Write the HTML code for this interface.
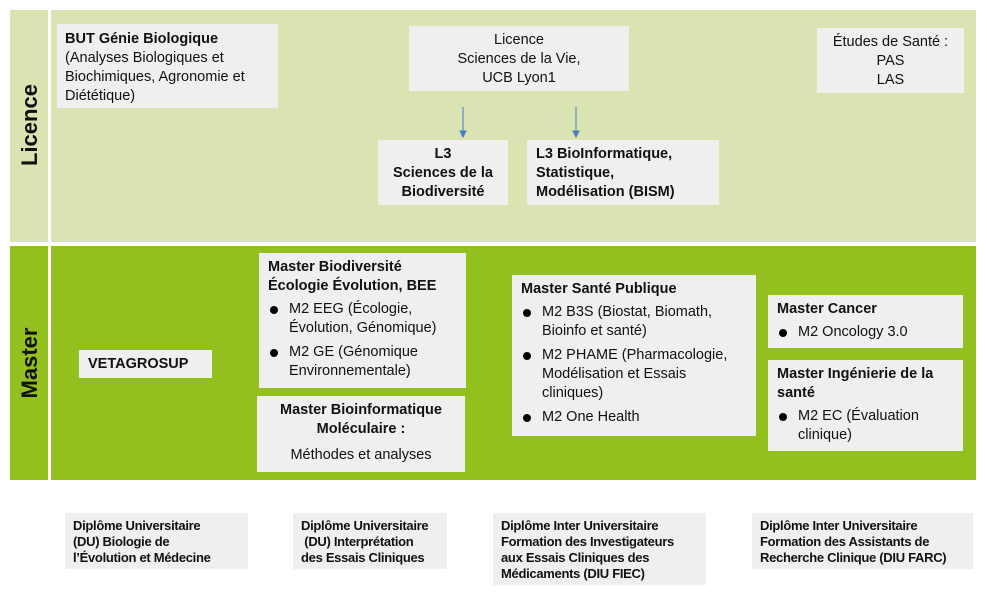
<!DOCTYPE html>
<html><head><meta charset="utf-8"><style>
body{margin:0;width:987px;height:598px;background:#fff;position:relative;font-family:"Liberation Sans",sans-serif;color:#111;overflow:hidden}
.a{position:absolute}
.bx{position:absolute;background:#efefee;box-sizing:border-box;font-size:14.5px;line-height:19px}
.b{font-weight:bold}
.c{text-align:center}
ul{margin:4px 0 0 0;padding:0;list-style:none}
li{position:relative;padding-left:21px;margin-bottom:5px}
li:before{content:"";position:absolute;left:2px;top:6px;width:8px;height:8px;border-radius:50%;background:#000}
.vert{position:absolute;transform:rotate(-90deg);font-weight:bold;font-size:22px;white-space:nowrap}
.du{position:absolute;background:#efefee;font-size:13px;font-weight:bold;line-height:16px;padding:5px 8px;box-sizing:border-box;letter-spacing:-0.3px;white-space:nowrap}
</style></head><body>
<div class="a" style="left:10px;top:10px;width:38px;height:232px;background:#d9e4b2"></div>
<div class="a" style="left:51px;top:10px;width:925px;height:232px;background:#d9e4b2"></div>
<div class="a" style="left:10px;top:246px;width:38px;height:234px;background:#93c01f"></div>
<div class="a" style="left:51px;top:246px;width:925px;height:234px;background:#93c01f"></div>
<div class="vert" style="left:-10px;top:113px;width:80px;text-align:center">Licence</div>
<div class="vert" style="left:-10px;top:350px;width:80px;text-align:center">Master</div>

<div class="bx" style="left:57px;top:24px;width:221px;height:84px;padding:6px 8px"><span class="b">BUT Génie Biologique</span><br>(Analyses Biologiques et Biochimiques, Agronomie et Diététique)</div>
<div class="bx c" style="left:409px;top:26px;width:220px;height:65px;padding:5px 0">Licence<br>Sciences de la Vie,<br>UCB Lyon1</div>
<div class="bx c" style="left:817px;top:28px;width:147px;height:65px;padding:5px 0">Études de Santé :<br>PAS<br>LAS</div>
<div class="bx c b" style="left:378px;top:140px;width:130px;height:65px;padding:5px 0">L3<br>Sciences de la<br>Biodiversité</div>
<div class="bx b" style="left:527px;top:140px;width:192px;height:65px;padding:5px 9px">L3 BioInformatique,<br>Statistique,<br>Modélisation (BISM)</div>
<svg class="a" style="left:0;top:0" width="987" height="598">
<g stroke="#4a7cc4" stroke-width="1" fill="#4a7cc4">
<line x1="463" y1="107" x2="463" y2="132"/><polygon points="460,131 466,131 463,137"/>
<line x1="576" y1="107" x2="576" y2="132"/><polygon points="573,131 579,131 576,137"/>
</g></svg>

<div class="bx b" style="left:79px;top:350px;width:133px;height:28px;padding:5px 9px">VETAGROSUP</div>
<div class="bx" style="left:259px;top:253px;width:207px;height:135px;padding:5px 9px"><span class="b">Master Biodiversité Écologie Évolution, BEE</span>
<ul><li>M2 EEG (Écologie, Évolution, Génomique)</li><li>M2 GE (Génomique Environnementale)</li></ul></div>
<div class="bx c" style="left:257px;top:396px;width:208px;height:76px;padding:5px 0"><span class="b">Master Bioinformatique<br>Moléculaire :</span><div style="margin-top:7px">Méthodes et analyses</div></div>
<div class="bx" style="left:512px;top:275px;width:244px;height:161px;padding:5px 9px"><span class="b">Master Santé Publique</span>
<ul><li>M2 B3S (Biostat, Biomath, Bioinfo et santé)</li><li>M2 PHAME (Pharmacologie, Modélisation et Essais cliniques)</li><li>M2 One Health</li></ul></div>
<div class="bx" style="left:768px;top:295px;width:195px;height:53px;padding:5px 9px"><span class="b">Master Cancer</span>
<ul><li>M2 Oncology 3.0</li></ul></div>
<div class="bx" style="left:768px;top:360px;width:195px;height:91px;padding:5px 9px"><span class="b">Master Ingénierie de la santé</span>
<ul><li>M2 EC (Évaluation clinique)</li></ul></div>

<div class="du" style="left:65px;top:513px;width:183px;height:56px">Diplôme Universitaire<br>(DU) Biologie de<br>l’Évolution et Médecine</div>
<div class="du" style="left:293px;top:513px;width:154px;height:56px">Diplôme Universitaire<br>&nbsp;(DU) Interprétation<br>des Essais Cliniques</div>
<div class="du" style="left:493px;top:513px;width:213px;height:72px">Diplôme Inter Universitaire<br>Formation des Investigateurs<br>aux Essais Cliniques des<br>Médicaments (DIU FIEC)</div>
<div class="du" style="left:752px;top:513px;width:221px;height:56px">Diplôme Inter Universitaire<br>Formation des Assistants de<br>Recherche Clinique (DIU FARC)</div>
</body></html>
